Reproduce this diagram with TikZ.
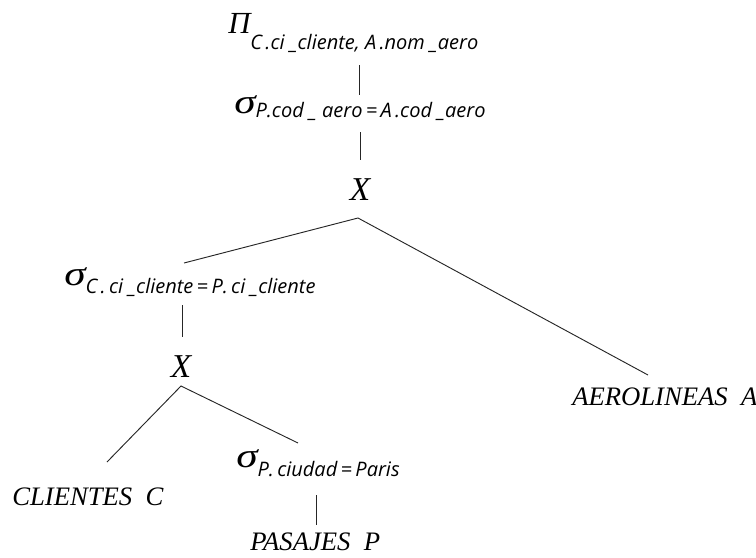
\documentclass[tikz,border=0pt]{standalone}
\usepackage{fontspec}
\setmainfont{Liberation Serif}
\newfontfamily\subf{Open Sans}
\usetikzlibrary{calc}
\newcommand\symsub[4]{{\fontsize{#4}{30}\selectfont\itshape #1}\raisebox{-#3}{\subf\fontsize{15}{18}\selectfont\itshape #2}}
\newcommand\wsig{\scalebox{1.25}[1]{σ}}
\begin{document}
\begin{tikzpicture}[x=0.75pt,y=-0.75pt,
  lbl/.style={inner sep=0pt, anchor=base west, font=\fontsize{20}{24}\selectfont\itshape},
  op/.style={inner sep=0pt, anchor=base west},
  cross/.style={inner sep=0pt, anchor=base, font=\fontsize{25}{30}\selectfont\itshape},
  edge/.style={draw=black!85, line width=0.7pt}]
\useasboundingbox (0,0) rectangle (756,557);
% nodes
\node[op] (proj) at (228,33) {\symsub{Π}{C\,.ci \_cliente, A\,.nom \_aero}{12.5pt}{23}};
\node[op] (sel1) at (234,113) {\symsub{\wsig}{P.cod \_ aero\,=\,A\,.cod \_aero}{3pt}{26}};
\node[cross] (x1) at (360,200) {X};
\node[op] (selc) at (64,285) {\symsub{\wsig}{C\,.\,ci \_cliente\,=\,P.\,ci \_cliente}{6pt}{26}};
\node[cross] (x2) at (181,377) {X};
\node[lbl] (cli) at (12,505) {CLIENTES~~C};
\node[op] (selp) at (236,467) {\symsub{\wsig}{P.\,ciudad\,=\,Paris}{7pt}{26}};
\node[lbl] (pas) at (250,550) {PASAJES~~P};
\node[lbl] (aer) at (572,405) {AEROLINEAS~~A};
% connectors
\draw[edge] ($(proj.base -| x1)+(-1,32)$) -- ($(sel1.base -| x1)+(-1,-18)$);
\draw[edge] ($(sel1.base -| x1)+(0,19)$) -- ($(x1.base)+(0,-40)$);
\draw[edge] ($(selc.base west)+(120,-22)$) -- ($(x1.base)+(-2,18)$) -- ($(aer.base west)+(76,-30)$);
\draw[edge] ($(selc.base west)+(118,20)$) -- ($(x2.base)+(1,-40)$);
\draw[edge] ($(cli.base west)+(95,-43)$) -- ($(x2.base)+(0,9)$) -- ($(selp.base west)+(62,-24)$);
\draw[edge] ($(selp.base west)+(80,28)$) -- ($(pas.base west)+(66,-25)$);
\end{tikzpicture}
\end{document}
